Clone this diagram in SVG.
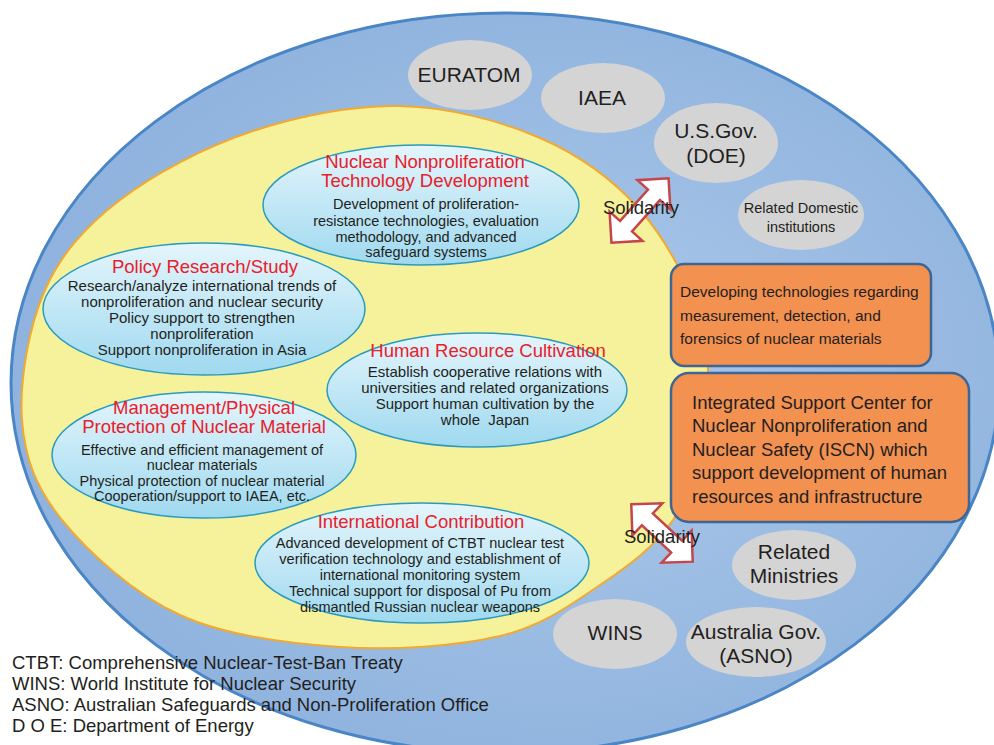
<svg xmlns="http://www.w3.org/2000/svg" width="994" height="745" viewBox="0 0 994 745">
<defs>
<radialGradient id="gBlue" cx="0.55" cy="0.5" r="0.6">
<stop offset="0" stop-color="#adc9ea"/>
<stop offset="1" stop-color="#8cb1dd"/>
</radialGradient>
<linearGradient id="gNode" x1="0" y1="0" x2="0" y2="1">
<stop offset="0" stop-color="#e4f5fc"/>
<stop offset="1" stop-color="#9fd9ef"/>
</linearGradient>
<style>
.t{font-family:"Liberation Sans",Arial,sans-serif;fill:#231f20}
.mid{text-anchor:middle}
.ttl{font-family:"Liberation Sans",Arial,sans-serif;fill:#e8202a;text-anchor:middle;font-size:18.5px}
.node{fill:url(#gNode);stroke:#2a9bbf;stroke-width:1.5}
.gray{fill:#d4d4d4}
.box{fill:#f39150;stroke:#3e6694;stroke-width:2.5}
.arr{fill:#ffffff;stroke:#c4464b;stroke-width:2.5;stroke-linejoin:miter}
</style>
</defs>
<g id="outer">
<ellipse cx="505" cy="383" rx="494" ry="370" fill="url(#gBlue)" stroke="#4a86c6" stroke-width="3"/>
</g>
<g id="inner">
<path d="M22,420 C19.2,381.7 28.7,326.7 45,290 C61.3,253.3 85.8,226.3 120,200 C154.2,173.7 203.3,147.7 250,132 C296.7,116.3 351.7,105 400,106 C448.3,107 500,120.7 540,138 C580,155.3 613.3,179.7 640,210 C666.7,240.3 689.2,283.3 700,320 C710.8,356.7 709.5,396.7 705,430 C700.5,463.3 690.5,494.2 673,520 C655.5,545.8 628.8,565.7 600,585 C571.2,604.3 543.3,625.7 500,636 C456.7,646.3 393.3,650.5 340,647 C286.7,643.5 226.3,636.2 180,615 C133.7,593.8 88.3,552.5 62,520 C35.7,487.5 24.8,458.3 22,420 Z" fill="#f6f29c" stroke="#f2a930" stroke-width="2"/>
</g>
<g id="euratom"><ellipse class="gray" cx="470" cy="75" rx="62" ry="35"/><text class="t mid" x="469" y="82" font-size="21">EURATOM</text></g>
<g id="iaea"><ellipse class="gray" cx="603" cy="98" rx="62" ry="35"/><text class="t mid" x="602" y="105" font-size="21">IAEA</text></g>
<g id="usgov"><ellipse class="gray" cx="716" cy="143" rx="62" ry="40"/><text class="t mid" x="716" y="138" font-size="21">U.S.Gov.</text><text class="t mid" x="716" y="163" font-size="21">(DOE)</text></g>
<g id="domestic"><ellipse class="gray" cx="801" cy="215" rx="63" ry="35"/><text class="t mid" x="801" y="213" font-size="14.5">Related Domestic</text><text class="t mid" x="801" y="232" font-size="14.5">institutions</text></g>
<g id="ministries"><ellipse class="gray" cx="794" cy="565" rx="62" ry="35"/><text class="t mid" x="794" y="559" font-size="21">Related</text><text class="t mid" x="794" y="583" font-size="21">Ministries</text></g>
<g id="wins"><ellipse class="gray" cx="615" cy="634" rx="62" ry="35"/><text class="t mid" x="615" y="640" font-size="21">WINS</text></g>
<g id="australia"><ellipse class="gray" cx="756" cy="642" rx="70" ry="35"/><text class="t mid" x="756" y="639" font-size="21">Australia Gov.</text><text class="t mid" x="756" y="663" font-size="21">(ASNO)</text></g>
<g id="nntd">
<ellipse class="node" cx="421" cy="205" rx="158" ry="60"/>
<text class="ttl" x="425" y="168">Nuclear Nonproliferation</text>
<text class="ttl" x="425" y="187">Technology Development</text>
<text class="t mid" font-size="14.5"><tspan x="426" y="209">Development of proliferation-</tspan><tspan x="426" y="226">resistance technologies, evaluation</tspan><tspan x="426" y="242">methodology, and advanced</tspan><tspan x="426" y="257">safeguard systems</tspan></text>
</g>
<g id="policy">
<ellipse class="node" cx="204" cy="309" rx="161" ry="66"/>
<text class="ttl" x="205" y="273">Policy Research/Study</text>
<text class="t mid" font-size="15"><tspan x="202" y="291">Research/analyze international trends of</tspan><tspan x="202" y="307">nonproliferation and nuclear security</tspan><tspan x="202" y="323">Policy support to strengthen</tspan><tspan x="202" y="339">nonproliferation</tspan><tspan x="202" y="355">Support nonproliferation in Asia</tspan></text>
</g>
<g id="hr">
<ellipse class="node" cx="477" cy="390" rx="150" ry="57"/>
<text class="ttl" x="488" y="357">Human Resource Cultivation</text>
<text class="t mid" font-size="15" xml:space="preserve"><tspan x="485" y="377">Establish cooperative relations with</tspan><tspan x="485" y="393">universities and related organizations</tspan><tspan x="485" y="409">Support human cultivation by the</tspan><tspan x="485" y="425">whole  Japan</tspan></text>
</g>
<g id="mgmt">
<ellipse class="node" cx="204" cy="455" rx="152" ry="63"/>
<text class="ttl" x="204" y="414">Management/Physical</text>
<text class="ttl" x="204" y="433">Protection of Nuclear Material</text>
<text class="t mid" font-size="14.5"><tspan x="202" y="455">Effective and efficient management of</tspan><tspan x="202" y="470">nuclear materials</tspan><tspan x="202" y="486">Physical protection of nuclear material</tspan><tspan x="202" y="501">Cooperation/support to IAEA, etc.</tspan></text>
</g>
<g id="intl">
<ellipse class="node" cx="422" cy="563" rx="167" ry="60"/>
<text class="ttl" x="421" y="528">International Contribution</text>
<text class="t mid" font-size="14.5"><tspan x="420" y="548">Advanced development of CTBT nuclear test</tspan><tspan x="420" y="564">verification technology and establishment of</tspan><tspan x="420" y="580">international monitoring system</tspan><tspan x="420" y="596">Technical support for disposal of Pu from</tspan><tspan x="420" y="612">dismantled Russian nuclear weapons</tspan></text>
</g>
<g id="measure">
<rect class="box" x="671" y="264" width="260" height="102" rx="13"/>
<text class="t" font-size="15.5"><tspan x="680" y="297">Developing technologies regarding</tspan><tspan x="680" y="321">measurement, detection, and</tspan><tspan x="680" y="344">forensics of nuclear materials</tspan></text>
</g>
<g id="iscn">
<rect class="box" x="671" y="373" width="298" height="149" rx="18"/>
<text class="t" font-size="18.5"><tspan x="692" y="409">Integrated Support Center for</tspan><tspan x="692" y="432">Nuclear Nonproliferation and</tspan><tspan x="692" y="456">Nuclear Safety (ISCN) which</tspan><tspan x="692" y="479">support development of human</tspan><tspan x="692" y="503">resources and infrastructure</tspan></text>
</g>
<g id="connectors">
<path class="arr" transform="translate(640,210.5) rotate(-48.4)" d="M-43,0 L-21,-22 L-21,-8 L21,-8 L21,-22 L43,0 L21,22 L21,8 L-21,8 L-21,22 Z"/>
<path class="arr" transform="translate(662,533) rotate(43)" d="M-42,0 L-20,-22 L-20,-8 L20,-8 L20,-22 L42,0 L20,22 L20,8 L-20,8 L-20,22 Z"/>
<text class="t mid" x="641" y="214" font-size="18.5">Solidarity</text>
<text class="t mid" x="662" y="543" font-size="18.5">Solidarity</text>
</g>
<g id="legend">
<text class="t" font-size="18.5"><tspan x="12" y="669">CTBT: Comprehensive Nuclear-Test-Ban Treaty</tspan><tspan x="12" y="690">WINS: World Institute for Nuclear Security</tspan><tspan x="12" y="711">ASNO: Australian Safeguards and Non-Proliferation Office</tspan><tspan x="12" y="732">D O E: Department of Energy</tspan></text>
</g>
</svg>
